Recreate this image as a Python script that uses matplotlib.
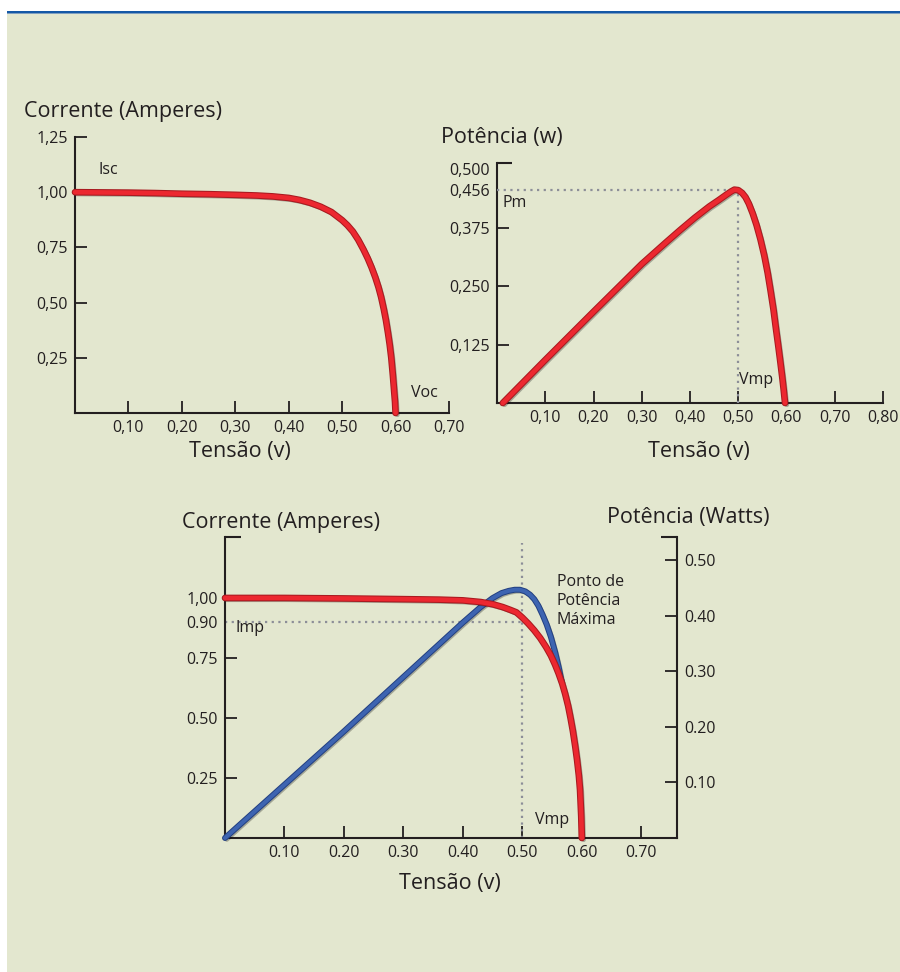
import matplotlib
matplotlib.use("Agg")
import matplotlib.pyplot as plt
import matplotlib.patheffects as pe
from matplotlib.patches import Rectangle

plt.rcParams['font.family'] = ['Open Sans', 'DejaVu Sans']

# ---------------- data ----------------
# Top-left: I-V curve
iv_volt = [0.0, 0.05, 0.10, 0.15, 0.20, 0.25, 0.30, 0.34, 0.37, 0.40, 0.42, 0.44, 0.46,
           0.48, 0.50, 0.51, 0.52, 0.53, 0.54, 0.548, 0.555, 0.562, 0.568, 0.573, 0.578,
           0.582, 0.586, 0.589, 0.592, 0.595, 0.597, 0.599, 0.600]
iv_curr = [1.0, 0.999, 0.998, 0.996, 0.993, 0.991, 0.988, 0.985, 0.981, 0.974, 0.965,
           0.952, 0.934, 0.91, 0.873, 0.85, 0.822, 0.785, 0.74, 0.70, 0.66, 0.615, 0.57,
           0.525, 0.47, 0.42, 0.36, 0.31, 0.25, 0.17, 0.11, 0.05, 0.0]
iv_xticks = [0.10, 0.20, 0.30, 0.40, 0.50, 0.60, 0.70]
iv_xlabels = ["0,10", "0,20", "0,30", "0,40", "0,50", "0,60", "0,70"]
iv_yticks = [0.25, 0.50, 0.75, 1.00, 1.25]
iv_ylabels = ["0,25", "0,50", "0,75", "1,00", "1,25"]

# Top-right: P-V curve
pv_volt = [0.012, 0.10, 0.20, 0.30, 0.35, 0.38, 0.41, 0.44, 0.46, 0.475, 0.485, 0.492,
           0.50, 0.508, 0.515, 0.522, 0.53, 0.538, 0.546, 0.554, 0.561, 0.567, 0.573,
           0.578, 0.583, 0.587, 0.591, 0.594, 0.597]
pv_pow = [0.0, 0.092, 0.195, 0.297, 0.343, 0.37, 0.396, 0.42, 0.434, 0.445, 0.452, 0.456,
          0.455, 0.449, 0.44, 0.426, 0.405, 0.38, 0.35, 0.315, 0.278, 0.24, 0.20,
          0.16, 0.122, 0.09, 0.057, 0.03, 0.0]
pv_xticks = [0.10, 0.20, 0.30, 0.40, 0.50, 0.60, 0.70, 0.80]
pv_xlabels = ["0,10", "0,20", "0,30", "0,40", "0,50", "0,60", "0,70", "0,80"]
pv_yticks = [0.125, 0.250, 0.375]
pv_ylabels = ["0,125", "0,250", "0,375"]
pv_yticks_extra = [0.456, 0.500]
pv_ylabels_extra = ["0,456", "0,500"]
pm_value = 0.456
vmp_value = 0.50

# Bottom: combined
c_volt = [0.0, 0.10, 0.20, 0.30, 0.36, 0.40, 0.43, 0.45, 0.467, 0.48, 0.49, 0.50, 0.51,
          0.52, 0.53, 0.54, 0.548, 0.555, 0.561, 0.567, 0.572, 0.577, 0.581, 0.585,
          0.589, 0.592, 0.595, 0.597, 0.599, 0.600]
c_curr = [1.0, 1.0, 0.998, 0.995, 0.993, 0.99, 0.983, 0.974, 0.962, 0.95, 0.94, 0.918,
          0.893, 0.865, 0.833, 0.795, 0.76, 0.722, 0.685, 0.643, 0.60, 0.55, 0.50, 0.445,
          0.38, 0.325, 0.26, 0.20, 0.09, 0.0]
p_volt = [0.0, 0.10, 0.20, 0.30, 0.40, 0.43, 0.45, 0.465, 0.477, 0.487, 0.496, 0.505,
          0.513, 0.52, 0.527, 0.534, 0.541, 0.548, 0.555, 0.561, 0.566]
p_pow = [0.0, 0.096, 0.192, 0.29, 0.388, 0.416, 0.432, 0.441, 0.445, 0.447, 0.447, 0.444,
         0.438, 0.43, 0.418, 0.402, 0.384, 0.362, 0.335, 0.308, 0.282]
c_xticks = [0.10, 0.20, 0.30, 0.40, 0.50, 0.60, 0.70]
c_xlabels = ["0.10", "0.20", "0.30", "0.40", "0.50", "0.60", "0.70"]
c_yticks = [0.25, 0.50, 0.75, 1.00]
c_ylabels = ["0.25", "0.50", "0.75", "1,00"]
c_yticks_extra = [0.90]
c_ylabels_extra = ["0.90"]
c_ptick = [0.10, 0.20, 0.30, 0.40, 0.50]
c_plabels = ["0.10", "0.20", "0.30", "0.40", "0.50"]
imp_value = 0.90
vmp2_value = 0.50

# ---------------- style ----------------
W, H = 900, 972
BG = '#e3e7cf'
INK = '#231f20'
RED = '#ec2830'
RED_EDGE = '#a91a20'
BLUE = '#3d64b1'
BLUE_EDGE = '#223f80'
DOT = '#8c8e98'

fig = plt.figure(figsize=(W / 100, H / 100), dpi=100)
fig.patch.set_facecolor('white')


def fx(px):
    return px / W


def fy(py):
    return 1 - py / H


def rect(l, t, r, b):
    return [fx(l), fy(b), (r - l) / W, (b - t) / H]


fig.patches.append(Rectangle((fx(7), 0), 1 - fx(7), fy(13.5), transform=fig.transFigure,
                             facecolor=BG, edgecolor='none', zorder=-10))
fig.patches.append(Rectangle((fx(7), fy(13)), 1 - fx(7), 2.4 / H, transform=fig.transFigure,
                             facecolor='#1458a6', edgecolor='none', zorder=-9))
fig.patches.append(Rectangle((fx(7), fy(13.8)), 1 - fx(7), 0.9 / H, transform=fig.transFigure,
                             facecolor='#7f9fc0', edgecolor='none', zorder=-9))

red_fx = [pe.SimpleLineShadow(offset=(1.3, -1.3), shadow_color='black', alpha=0.28),
          pe.Stroke(linewidth=4.8, foreground=RED_EDGE, joinstyle='round', capstyle='round'),
          pe.Normal()]
blue_fx = [pe.SimpleLineShadow(offset=(1.3, -1.3), shadow_color='black', alpha=0.28),
           pe.Stroke(linewidth=4.3, foreground=BLUE_EDGE, joinstyle='round', capstyle='round'),
           pe.Normal()]

TICKFS = 11.5
TITLEFS = 15.5
ANNFS = 11.5


def style_axes(ax, spines=('left', 'bottom')):
    ax.set_facecolor('none')
    for s in ['left', 'right', 'top', 'bottom']:
        ax.spines[s].set_visible(s in spines)
        ax.spines[s].set_color(INK)
        ax.spines[s].set_linewidth(1.5)
    ax.tick_params(direction='in', length=8.5, width=1.3, color=INK, labelcolor=INK,
                   labelsize=TICKFS, pad=5)
    ax.tick_params(which='minor', length=0, labelsize=TICKFS, labelcolor=INK, pad=5)


def cap(ax, x0, x1, y=1.0):
    ax.plot([x0, x1], [y, y], transform=ax.transAxes, color=INK, lw=1.5,
            clip_on=False, solid_capstyle='butt')


def curve(ax, xs, ys, color, fx_list, lw=3.3, **kw):
    ax.plot(xs, ys, color=color, lw=lw, solid_capstyle='round', solid_joinstyle='round',
            path_effects=fx_list, clip_on=False, **kw)


# ---------- top-left ----------
ax1 = fig.add_axes(rect(75, 137, 449, 413))
style_axes(ax1)
ax1.set_xlim(0, 0.70)
ax1.set_ylim(0, 1.25)
ax1.set_xticks(iv_xticks, iv_xlabels)
ax1.set_yticks(iv_yticks, iv_ylabels)
curve(ax1, iv_volt, iv_curr, RED, red_fx, zorder=5)
fig.text(fx(24), fy(112), "Corrente (Amperes)", fontsize=TITLEFS, color=INK,
         ha='left', va='center')
fig.text(fx(240), fy(452), "Tensão (v)", fontsize=TITLEFS, color=INK, ha='center', va='center')
fig.text(fx(98), fy(170), "Isc", fontsize=ANNFS, color=INK, ha='left', va='center')
fig.text(fx(411), fy(393), "Voc", fontsize=ANNFS, color=INK, ha='left', va='center')

# ---------- top-right ----------
ax2 = fig.add_axes(rect(497, 163, 883, 403))
style_axes(ax2)
ax2.set_xlim(0, 0.80)
ax2.set_ylim(0, 0.513)
ax2.set_xticks(pv_xticks, pv_xlabels)
ax2.set_yticks(pv_yticks, pv_ylabels)
ax2.set_yticks(pv_yticks_extra, pv_ylabels_extra, minor=True)
cap(ax2, 0, 0.04)
ax2.plot([0, vmp_value], [pm_value, pm_value], color=DOT, lw=1.6, ls=(0, (1, 2)),
         zorder=3, clip_on=False)
ax2.plot([vmp_value, vmp_value], [0, pm_value], color=DOT, lw=1.6, ls=(0, (1, 2)),
         zorder=3, clip_on=False)
curve(ax2, pv_volt, pv_pow, RED, red_fx, zorder=5)
fig.text(fx(441), fy(137), "Potência (w)", fontsize=TITLEFS, color=INK, ha='left', va='center')
fig.text(fx(699), fy(452), "Tensão (v)", fontsize=TITLEFS, color=INK, ha='center', va='center')
fig.text(fx(503), fy(203), "Pm", fontsize=ANNFS, color=INK, ha='left', va='center')
fig.text(fx(739), fy(380), "Vmp", fontsize=ANNFS, color=INK, ha='left', va='center')

# ---------- bottom ----------
ax3 = fig.add_axes(rect(225, 537, 677, 838))
style_axes(ax3)
ax3.set_xlim(0, 0.76)
ax3.set_ylim(0, 1.254)
ax3.set_xticks(c_xticks, c_xlabels)
ax3.set_yticks(c_yticks, c_ylabels)
ax3.set_yticks(c_yticks_extra, c_ylabels_extra, minor=True)
cap(ax3, 0, 0.035)

ax4 = ax3.twinx()
style_axes(ax4, spines=('right',))
ax4.set_ylim(0, 0.542)
ax4.set_yticks(c_ptick, c_plabels)
cap(ax4, 0.965, 1.0)

ax3.plot([0, vmp2_value], [imp_value, imp_value], color=DOT, lw=1.6, ls=(0, (1, 2)),
         zorder=2, clip_on=False)
ax3.plot([vmp2_value, vmp2_value], [0, 1.23], color=DOT, lw=1.6, ls=(0, (1, 2)),
         zorder=2, clip_on=False)
ax3.set_zorder(2)
ax4.set_zorder(1)
ax3.patch.set_visible(False)
# power curve drawn in ax3 using the power (right) axis scale
curve(ax3, p_volt, p_pow, BLUE, blue_fx, lw=2.9, transform=ax4.transData, zorder=4)
curve(ax3, c_volt, c_curr, RED, red_fx, zorder=5)

fig.text(fx(182), fy(522), "Corrente (Amperes)", fontsize=TITLEFS, color=INK,
         ha='left', va='center')
fig.text(fx(607), fy(518), "Potência (Watts)", fontsize=TITLEFS, color=INK,
         ha='left', va='center')
fig.text(fx(450), fy(883), "Tensão (v)", fontsize=TITLEFS, color=INK, ha='center', va='center')
fig.text(fx(235), fy(628), "Imp", fontsize=ANNFS, color=INK, ha='left', va='center')
fig.text(fx(535), fy(820), "Vmp", fontsize=ANNFS, color=INK, ha='left', va='center')
for i, line in enumerate(["Ponto de", "Potência", "Máxima"]):
    fig.text(fx(557), fy(582 + 19 * i), line, fontsize=ANNFS, color=INK,
             ha='left', va='center')

fig.savefig("out.png", dpi=100, facecolor=fig.get_facecolor())
